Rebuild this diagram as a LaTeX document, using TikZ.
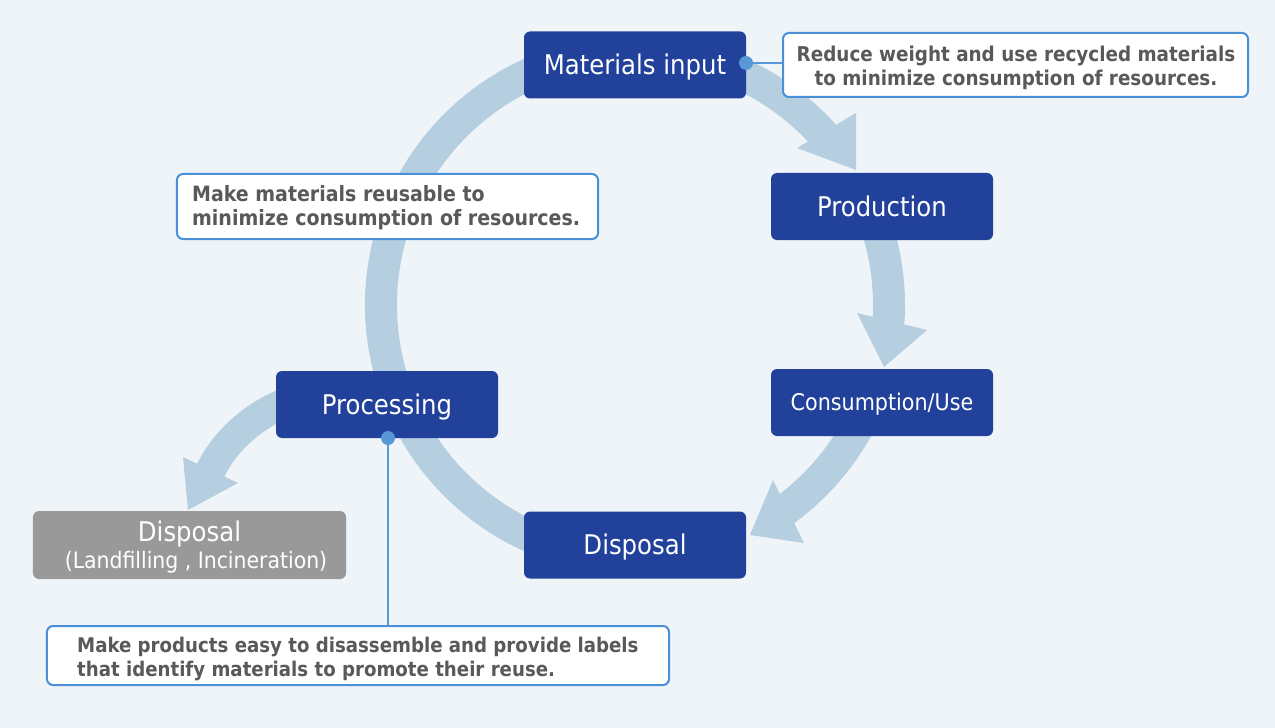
\documentclass[tikz,border=0pt]{standalone}
\usepackage{fontspec}
\setmainfont{DejaVu Sans Condensed}
\definecolor{bg}{RGB}{239,244,249}
\definecolor{arr}{RGB}{181,206,224}
\definecolor{navy}{RGB}{33,65,154}
\definecolor{greybox}{RGB}{153,153,153}
\definecolor{txtgray}{RGB}{89,89,89}
\definecolor{callb}{RGB}{74,144,217}
\definecolor{dotc}{RGB}{88,152,214}
\begin{document}
\begin{tikzpicture}[x=1bp,y=-1bp,
  mainbox/.style={fill=navy, rounded corners=6bp, minimum width=222bp, minimum height=67bp,
    inner sep=0pt, text=white, font=\fontsize{27.1bp}{30bp}\selectfont, text height=19.8bp, text depth=0pt},
  graybox/.style={fill=greybox, rounded corners=6bp, minimum width=313bp, minimum height=68bp, inner sep=0pt},
  wtext/.style={text=white, inner sep=0pt, font=\fontsize{27.1bp}{30bp}\selectfont},
  wsmall/.style={text=white, inner sep=0pt, font=\fontsize{22.7bp}{26bp}\selectfont},
  callout/.style={draw=callb, line width=2bp, fill=white, rounded corners=6bp, inner sep=0pt},
  ctext/.style={text=txtgray, inner sep=0pt, font=\bfseries\fontsize{20.4bp}{24bp}\selectfont},
  ctextb/.style={text=txtgray, inner sep=0pt, font=\bfseries\fontsize{21.1bp}{24bp}\selectfont},
  ctextc/.style={text=txtgray, inner sep=0pt, font=\bfseries\fontsize{20.2bp}{24bp}\selectfont},
  shaft/.style={draw=arr, line width=32bp},
  dot/.style={circle, fill=dotc, minimum size=14bp, inner sep=0pt},
  conn/.style={draw=dotc, line width=2bp}]
\fill[bg] (0,0) rectangle (1275,728);
\useasboundingbox (0,0) rectangle (1275,728);
\coordinate (C) at (635,305);
\def\R{254}
% big cycle arrows
\draw[shaft] (C) ++(250:\R) arc[start angle=250, end angle=110, radius=\R];
\draw[shaft] (C) ++(-68:\R) arc[start angle=-68, end angle=-40.5, radius=\R];
\fill[arr] (797,148) -- (856,113) -- (856,170) -- cycle;
\draw[shaft] (C) ++(-18:\R) arc[start angle=-18, end angle=5, radius=\R];
\fill[arr] (857,313) -- (927,330) -- (884,367) -- cycle;
\draw[shaft] (C) ++(26:\R) arc[start angle=26, end angle=55, radius=\R];
\fill[arr] (773,480) -- (804,543) -- (750,535) -- cycle;
% processing -> disposal arrow
\draw[draw=arr, line width=30bp] (300,398) .. controls (258,410) and (224,440) .. (209,474);
\fill[arr] (183,457) -- (238,483) -- (188,510) -- cycle;
% boxes
\node[mainbox] (mat) at (635,65) {Materials input};
\node[mainbox] (prod) at (882,206.5) {Production};
\node[mainbox, font=\fontsize{23bp}{26bp}\selectfont, text height=16.8bp] (cons) at (882,402.5) {Consumption/Use};
\node[mainbox] (disp) at (635,545) {Disposal};
\node[mainbox] (proc) at (387,404.5) {Processing};
\node[graybox] (gdisp) at (189.5,545) {};
\node[wtext, anchor=base] (gd1) at (189.5,541) {Disposal};
\node[wsmall, anchor=base] (gd2) at (196,568) {(Landfilling , Incineration)};
% callouts
\node[callout, minimum width=465bp, minimum height=64bp] (c1) at (1015.5,65) {};
\node[ctext, anchor=base] (c1a) at (1016,61.7) {Reduce weight and use recycled materials};
\node[ctext, anchor=base] (c1b) at (1016,86) {to minimize consumption of resources.};
\node[callout, minimum width=421bp, minimum height=65bp] (c2) at (387.5,206.5) {};
\node[ctextb, anchor=base west] (c2a) at (192,201.7) {Make materials reusable to};
\node[ctextb, anchor=base west] (c2b) at (192,226) {minimize consumption of resources.};
\node[callout, minimum width=622bp, minimum height=59bp] (c3) at (358,655.5) {};
\node[ctextc, anchor=base west] (c3a) at (77,652.3) {Make products easy to disassemble and provide labels};
\node[ctextc, anchor=base west] (c3b) at (77,676) {that identify materials to promote their reuse.};
% dots and connectors
\node[dot] (d1) at (746,63) {};
\node[dot] (d2) at (388,438) {};
\draw[conn] (d1.east) -- (d1.east -| c1.west);
\draw[conn] (d2.south) -- (d2.south |- c3.north);
\end{tikzpicture}
\end{document}
